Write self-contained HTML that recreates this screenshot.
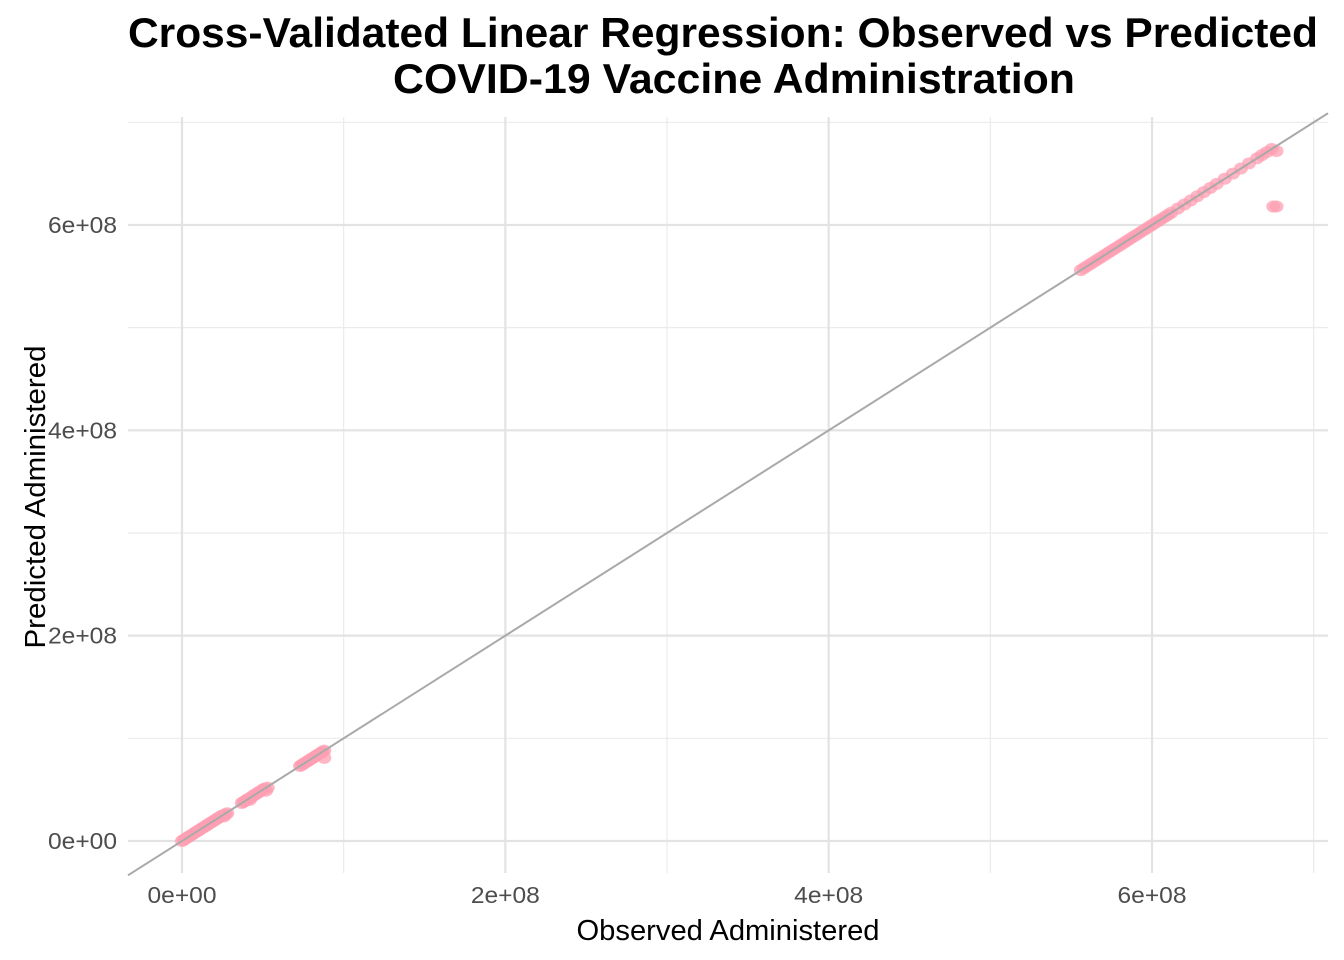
<!DOCTYPE html>
<html><head><meta charset="utf-8"><style>
body{margin:0;background:#fff;}
svg{display:block;font-family:"Liberation Sans",Arial,sans-serif;}
</style></head><body>
<svg id="chart" width="1344" height="960">
<text x="723" y="47" text-anchor="middle" font-size="42" font-weight="bold" fill="#000" textLength="1190" lengthAdjust="spacingAndGlyphs">Cross-Validated Linear Regression: Observed vs Predicted</text>
<text x="734" y="93" text-anchor="middle" font-size="42" font-weight="bold" fill="#000" textLength="682" lengthAdjust="spacingAndGlyphs">COVID-19 Vaccine Administration</text>
<g id="grid"></g><g id="pts"></g><g id="ref"></g><g id="axes"></g>
<text x="728" y="940" text-anchor="middle" font-size="29" fill="#000" textLength="303" lengthAdjust="spacingAndGlyphs">Observed Administered</text>
<text transform="translate(45,497) rotate(-90)" text-anchor="middle" font-size="29" fill="#000" textLength="303" lengthAdjust="spacingAndGlyphs">Predicted Administered</text>
</svg>
<script>
const xTicks=[0,200,400,600];
const yTicks=[0,200,400,600];
const tickLabels=["0e+00","2e+08","4e+08","6e+08"];
const minorTicks=[100,300,500,700];
const observed=[0,1,2,3,4,5,6,7,8,9,10,11,12,13,14,15,16,17,18,19,20,21,22,23,24,25,26,27,28,
37,38,39,40,41,42,43,44,45,46,47,48,49,50,51,52,53,
73,74,75,76,77,78,79,80,81,82,83,84,85,86,87,88,88,
556,558,560,562,564,566,568,570,572,574,576,578,580,582,584,586,588,590,592,594,596,598,600,602,604,606,608,610,612,
616,620,624,628,632,636,640,645,650,655,660,665,668,671,674,677,675,677];
const predicted=[0,1,2,3,4,5,6,7,8,9,10,11,12,13,14,15,16,17,18,19,20,21,22,23,24,25,24,26,27,
37,38,39,40,41,40,43,44,45,46,47,48,49,50,51,49,52,
73,74,75,76,77,78,79,80,81,82,83,84,85,86,87,88,81,
556,558,560,562,564,566,568,570,572,574,576,578,580,582,584,586,588,590,592,594,596,598,600,602,604,606,608,610,612,
616,620,624,628,632,636,640,645,650,655,660,665,668,671,674,672,618,618];
const ns="http://www.w3.org/2000/svg";
const X=v=>182+v*1.6167, Y=v=>841-v*1.0267;
function el(t,a,p){const e=document.createElementNS(ns,t);for(const k in a)e.setAttribute(k,a[k]);p.appendChild(e);return e;}
const g=document.getElementById('grid'),pts=document.getElementById('pts'),ref=document.getElementById('ref'),ax=document.getElementById('axes');
minorTicks.forEach(v=>{
 let l=el('line',{x1:X(v),x2:X(v),y1:117,y2:873,stroke:'#ebebeb','stroke-width':1.2},g);
 
 
 let m=el('line',{x1:128,x2:1328,y1:Y(v),y2:Y(v),stroke:'#ebebeb','stroke-width':1.2},g);
 
 
});
xTicks.forEach((v,i)=>{
 let l=el('line',{x1:X(v),x2:X(v),y1:117,y2:873,stroke:'#e3e3e3','stroke-width':2.2},g);
 
 
 let t=el('text',{x:X(v),y:903,'text-anchor':'middle','font-size':23,fill:'#4d4d4d',textLength:69,lengthAdjust:'spacingAndGlyphs'},ax);
 t.textContent=tickLabels[i];
 
 
});
yTicks.forEach((v,i)=>{
 let l=el('line',{x1:128,x2:1328,y1:Y(v),y2:Y(v),stroke:'#e3e3e3','stroke-width':2.2},g);
 
 
 let t=el('text',{x:117,y:Y(v)+8,'text-anchor':'end','font-size':23,fill:'#4d4d4d',textLength:69,lengthAdjust:'spacingAndGlyphs'},ax);
 t.textContent=tickLabels[i];
 
 
});
observed.forEach((o,i)=>{
 let c=el('ellipse',{cx:X(o),cy:Y(predicted[i]),rx:7,ry:6,fill:'#ff9fb3','fill-opacity':0.75},pts);
 
 
});
const x0=(128-182)/1.6167, x1=(1328-182)/1.6167;
let d=el('line',{x1:X(x0),y1:Y(x0),x2:X(x1),y2:Y(x1),stroke:'#a9a9a9','stroke-width':2},ref);


</script>
</body></html>
